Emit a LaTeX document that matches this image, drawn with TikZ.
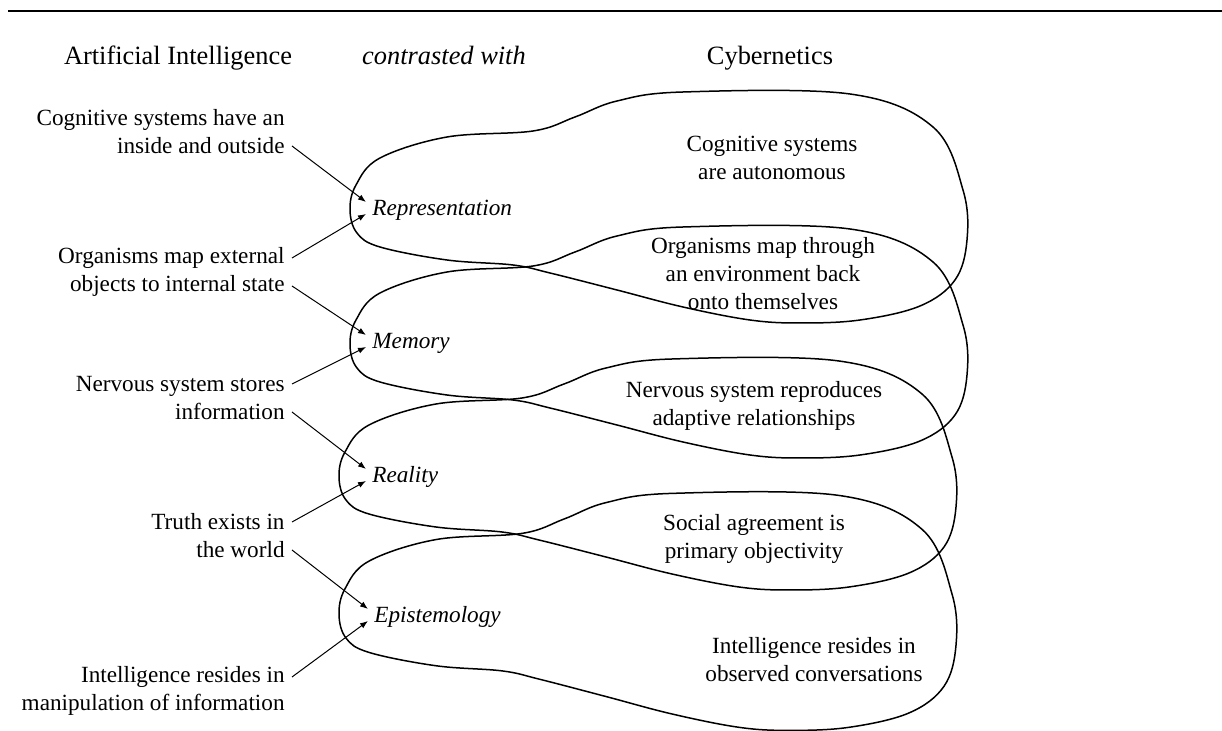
\documentclass[tikz,border=0pt]{standalone}
\usepackage{fontspec}
\setmainfont{Liberation Serif}
\usetikzlibrary{positioning, arrows.meta}

\newcommand{\diagfont}{\fontsize{11.6}{14}\selectfont}
\newcommand{\headfont}{\fontsize{13.2}{16}\selectfont}

\begin{document}
\begin{tikzpicture}[
    x=0.5pt, y=-0.5pt,
    >={Latex[length=4pt, width=3pt]},
    every node/.style={font=\diagfont},
    heading/.style={font=\headfont, anchor=base, inner sep=2pt},
    aiclaim/.style={align=right, anchor=east, inner xsep=3.5pt},
    concept/.style={font=\diagfont\itshape, anchor=west, inner sep=3pt, text height=8pt, text depth=0pt},
    cyclaim/.style={align=center},
    blob/.style={line width=0.75pt},
    link/.style={->, line width=0.5pt}
]
    \useasboundingbox (0,0) rectangle (1222,731);

    % --- TOP RULE AND COLUMN HEADINGS ---
    \draw[line width=1pt] (8,11) -- (1222,11);
    \node[heading] (h_ai)  at (178,65) {Artificial Intelligence};
    \node[heading, font=\headfont\itshape] (h_vs) at (444,65) {contrasted with};
    \node[heading] (h_cyb) at (770,65) {Cybernetics};

    % --- OVERLAPPING BLOBS (same outline, shifted down) ---
    \foreach \dx/\dy/\ys in {0/0/1, 0/135/1, -11/267/1, -11/399/1.026}
        \draw[blob, shift={(\dx,\dy)}, yscale=\ys] plot[smooth cycle, tension=0.6] coordinates {
            (350,210) (356,185) (380,158) (447,137) (533,131) (575,117) (617,101) (683,92)
            (850,94) (933,127) (963,190) (967,240) (955,280) (920,306) (860,320) (800,323)
            (750,320) (683,307) (617,290) (550,273) (513,265) (447,260) (380,247) (357,233)};

    % --- ARTIFICIAL INTELLIGENCE CLAIMS ---
    \node[aiclaim] (ai1) at (292,132) {Cognitive systems have an\\inside and outside};
    \node[aiclaim] (ai2) at (292,272) {Organisms map external\\objects to internal state};
    \node[aiclaim] (ai3) at (292,398) {Nervous system stores\\information};
    \node[aiclaim] (ai4) at (292,536) {Truth exists in\\the world};
    \node[aiclaim] (ai5) at (292,691) {Intelligence resides in\\manipulation of information};

    % --- CONCEPTS ---
    \node[concept] (rep)   at (366,208) {Representation};
    \node[concept] (mem)   at (366,341) {Memory};
    \node[concept] (real)  at (366,475) {Reality};
    \node[concept] (epist) at (368,615) {Epistemology};

    % --- CYBERNETICS CLAIMS ---
    \node[cyclaim] (cy1) at (772,158) {Cognitive systems\\are autonomous};
    \node[cyclaim] (cy2) at (763,274) {Organisms map through\\an environment back\\onto themselves};
    \node[cyclaim] (cy3) at (754,406) {Nervous system reproduces\\adaptive relationships};
    \node[cyclaim] (cy4) at (754,539) {Social agreement is\\primary objectivity};
    \node[cyclaim] (cy5) at (814,660) {Intelligence resides in\\observed conversations};

    % --- ARROWS INTO THE CONCEPTS ---
    \draw[link] ([yshift=-7pt]ai1.east) -- ([yshift=3pt]rep.west);
    \draw[link] ([yshift=7pt]ai2.east)  -- ([yshift=-3pt]rep.west);
    \draw[link] ([yshift=-7pt]ai2.east) -- ([yshift=3pt]mem.west);
    \draw[link] ([yshift=7pt]ai3.east)  -- ([yshift=-3pt]mem.west);
    \draw[link] ([yshift=-7pt]ai3.east) -- ([yshift=3pt]real.west);
    \draw[link] ([yshift=7pt]ai4.east)  -- ([yshift=-3pt]real.west);
    \draw[link] ([yshift=-7pt]ai4.east) -- ([yshift=3pt]epist.west);
    \draw[link] ([yshift=7pt]ai5.east)  -- ([yshift=-3pt]epist.west);

\end{tikzpicture}
\end{document}
